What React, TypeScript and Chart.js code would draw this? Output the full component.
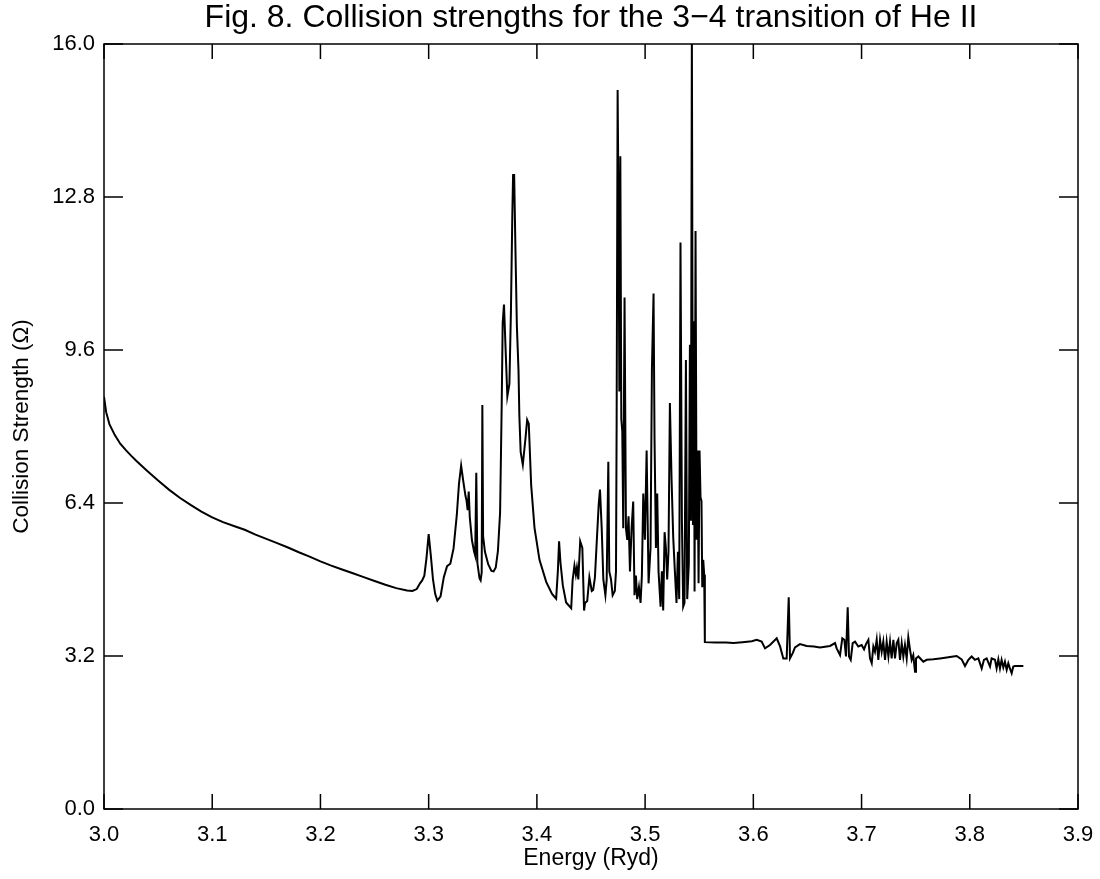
import React, { useEffect, useRef } from "react";
import { Chart, registerables } from "chart.js";

Chart.register(...registerables);

const TITLE = "Fig. 8. Collision strengths for the 3\u22124 transition of He II";
const X_LABEL = "Energy (Ryd)";
const Y_LABEL = "Collision Strength (\u03A9)";

const X_TICKS = [3.0, 3.1, 3.2, 3.3, 3.4, 3.5, 3.6, 3.7, 3.8, 3.9];
const Y_TICKS = [0.0, 3.2, 6.4, 9.6, 12.8, 16.0];

// Energy (Ryd) values
const energySmooth = [
  3.000, 3.002, 3.005, 3.010, 3.015, 3.020, 3.025, 3.030, 3.040, 3.050, 3.060,
  3.070, 3.080, 3.090, 3.100, 3.110, 3.120, 3.130, 3.140, 3.150, 3.160,
  3.170, 3.180, 3.190, 3.200, 3.210, 3.220, 3.230, 3.240, 3.250, 3.260,
  3.270, 3.280, 3.285, 3.289, 3.292, 3.294, 3.296,
];
const omegaSmooth = [
  8.62, 8.30, 8.05, 7.82, 7.64, 7.51, 7.39, 7.28, 7.07, 6.87, 6.68,
  6.51, 6.36, 6.22, 6.10, 6.00, 5.92, 5.84, 5.74, 5.65, 5.56,
  5.47, 5.37, 5.28, 5.18, 5.09, 5.01, 4.93, 4.85, 4.77, 4.69,
  4.62, 4.57, 4.56, 4.60, 4.72, 4.78, 4.88,
];

const energyResonance = [
  3.298, 3.300, 3.302, 3.304, 3.306, 3.308, 3.311, 3.314, 3.317, 3.320,
  3.323, 3.326, 3.328, 3.330, 3.332, 3.334, 3.335, 3.336, 3.337, 3.338,
  3.340, 3.342, 3.343, 3.344, 3.345, 3.347, 3.348, 3.349, 3.3496, 3.3503,
  3.352, 3.355, 3.358, 3.360, 3.362, 3.364, 3.366, 3.3675, 3.3684, 3.3696,
  3.3709, 3.3727, 3.3746, 3.376, 3.3773, 3.378, 3.379, 3.3802, 3.3815, 3.383,
  3.3838, 3.385, 3.387, 3.3895, 3.391, 3.3925, 3.3947, 3.3978, 3.4024, 3.4086,
  3.414, 3.4178, 3.4194, 3.4205, 3.4218, 3.424, 3.427, 3.4317, 3.433, 3.4347,
  3.436, 3.437, 3.4383, 3.440, 3.442, 3.4436, 3.4445, 3.4465, 3.4485, 3.4507,
  3.452, 3.4536, 3.4552, 3.4571, 3.4583, 3.4599, 3.4614, 3.4633, 3.4645, 3.466,
  3.4669, 3.4685, 3.470, 3.472, 3.4731, 3.4737, 3.4746, 3.4755, 3.4762, 3.4771,
  3.478, 3.4789, 3.4798, 3.481, 3.4823, 3.4835, 3.4847, 3.486, 3.4875, 3.489,
  3.4902, 3.4915, 3.4927, 3.4943, 3.4958, 3.497, 3.4983, 3.4998, 3.5014, 3.5032,
  3.505, 3.5063, 3.5078, 3.5087, 3.510, 3.5112, 3.5124, 3.5143, 3.5155, 3.5167,
  3.518, 3.5192, 3.5204, 3.5216, 3.5229, 3.5244, 3.526, 3.5275, 3.529, 3.5303,
  3.5315, 3.5327, 3.534, 3.5352, 3.5364, 3.5377, 3.5389, 3.5404, 3.5414, 3.5423,
  3.5432, 3.5442, 3.5451, 3.5457, 3.5466, 3.5476, 3.5485, 3.5494, 3.5503, 3.5512,
  3.5521, 3.5528, 3.5537, 3.5546,
];
const omegaResonance = [
  5.25, 5.75, 5.30, 4.80, 4.50, 4.36, 4.45, 4.85, 5.08, 5.13,
  5.45, 6.15, 6.80, 7.18, 6.85, 6.55, 6.45, 6.25, 6.64, 6.10,
  5.62, 5.38, 5.30, 7.03, 5.15, 4.82, 4.78, 4.95, 8.45, 5.70,
  5.38, 5.12, 4.98, 4.97, 5.05, 5.40, 6.20, 8.48, 10.17, 10.55,
  9.73, 8.63, 8.89, 10.40, 12.43, 13.26, 13.26, 11.68, 10.10, 9.19,
  8.22, 7.47, 7.20, 7.76, 8.14, 8.06, 6.78, 5.88, 5.21, 4.75,
  4.50, 4.40, 4.98, 5.60, 5.15, 4.67, 4.32, 4.20, 4.78, 5.09,
  4.90, 5.05, 4.80, 5.60, 5.46, 4.15, 4.31, 4.35, 4.85, 4.56,
  4.58, 4.84, 5.54, 6.36, 6.68, 5.87, 4.80, 4.47, 4.80, 7.26,
  4.97, 4.80, 4.47, 4.56, 4.97, 8.16, 15.04, 12.34, 8.73, 13.65,
  8.16, 7.90, 5.87, 10.70, 5.87, 5.63, 6.12, 4.97, 5.87, 6.43,
  4.47, 4.88, 4.39, 4.64, 4.31, 4.88, 6.60, 5.63, 7.50, 4.72,
  5.46, 9.22, 10.78, 7.76, 5.46, 6.60, 4.97, 4.23, 4.97, 4.15,
  5.79, 5.46, 4.80, 5.38, 8.49, 6.93, 5.67, 4.97, 4.31, 5.38,
  4.39, 11.85, 6.03, 4.23, 4.31, 9.39, 4.39, 5.13, 9.71, 6.03,
  16.30, 5.94, 10.20, 4.55, 12.09, 5.63, 7.50, 4.72, 7.50, 6.52,
  6.44, 4.64, 5.21, 4.90,
];

const energyTail = [
  3.5552, 3.565, 3.575, 3.5815, 3.590, 3.5985, 3.6031, 3.6077, 3.6108, 3.6154,
  3.6216, 3.6247, 3.6277, 3.6308, 3.6327, 3.6339, 3.6364, 3.6385, 3.6431, 3.6493,
  3.656, 3.6616, 3.6709, 3.6755, 3.677, 3.6801, 3.6822, 3.6841, 3.6856, 3.6872,
  3.6884, 3.690, 3.6918, 3.694, 3.697, 3.7001, 3.7023, 3.7041, 3.7063, 3.7078,
  3.7094, 3.7109, 3.7124, 3.714, 3.7155, 3.7171, 3.7186, 3.7201, 3.7217, 3.7232,
  3.7248, 3.7263, 3.7278, 3.7294, 3.7309, 3.7325, 3.734, 3.7355, 3.7371, 3.7386,
  3.7401, 3.7417, 3.7432, 3.7448, 3.7463, 3.7478, 3.7494, 3.7503, 3.7525, 3.7571,
  3.7602, 3.7663, 3.7725, 3.7787, 3.7848, 3.7879, 3.7925, 3.7956, 3.7987, 3.8017,
  3.8048, 3.8079, 3.811, 3.8131, 3.8156, 3.8187, 3.8202, 3.8233, 3.8248, 3.8264,
  3.8279, 3.8294, 3.831, 3.8325, 3.8341, 3.8356, 3.8371, 3.8387, 3.8402, 3.8418,
  3.8495,
];
const omegaTail = [
  3.49, 3.48, 3.48, 3.47, 3.49, 3.51, 3.54, 3.50, 3.36, 3.43,
  3.57, 3.40, 3.15, 3.15, 4.43, 3.15, 3.26, 3.38, 3.45, 3.41,
  3.40, 3.38, 3.41, 3.47, 3.36, 3.22, 3.57, 3.54, 3.19, 4.22,
  3.19, 3.12, 3.47, 3.50, 3.40, 3.43, 3.34, 3.45, 3.54, 3.15,
  3.05, 3.40, 3.29, 3.54, 3.12, 3.54, 3.29, 3.50, 3.12, 3.50,
  3.19, 3.50, 3.15, 3.54, 3.15, 3.47, 3.54, 3.12, 3.47, 3.19,
  3.43, 3.15, 3.59, 3.33, 3.12, 3.22, 2.87, 3.15, 3.19, 3.08,
  3.12, 3.13, 3.15, 3.17, 3.19, 3.20, 3.13, 2.99, 3.12, 3.19,
  3.12, 3.15, 2.94, 3.12, 3.15, 2.98, 3.15, 3.12, 2.94, 3.13,
  2.94, 3.12, 2.96, 3.08, 2.91, 3.05, 2.94, 2.84, 2.98, 2.99,
  2.99,
];

const FONT = "'Liberation Sans', Arial, sans-serif";

const framePlugin = {
  id: "idlFrame",
  afterDatasetsDraw(chart: any) {
    const { ctx, chartArea } = chart;
    const xs = chart.scales.x;
    const ys = chart.scales.y;
    const { left, right, top, bottom } = chartArea;
    ctx.save();
    ctx.strokeStyle = "#000";
    ctx.lineWidth = 1.5;
    ctx.strokeRect(left, top, right - left, bottom - top);
    ctx.beginPath();
    const xLen = 15;
    const yLen = 19;
    for (const v of X_TICKS) {
      const px = xs.getPixelForValue(v);
      ctx.moveTo(px, bottom);
      ctx.lineTo(px, bottom - xLen);
      ctx.moveTo(px, top);
      ctx.lineTo(px, top + xLen);
    }
    for (const v of Y_TICKS) {
      const py = ys.getPixelForValue(v);
      ctx.moveTo(left, py);
      ctx.lineTo(left + yLen, py);
      ctx.moveTo(right, py);
      ctx.lineTo(right - yLen, py);
    }
    ctx.stroke();
    ctx.restore();
  },
};

export default function App() {
  const ref = useRef<HTMLCanvasElement | null>(null);

  useEffect(() => {
    if (!ref.current) return;
    const energy = [...energySmooth, ...energyResonance, ...energyTail];
    const omega = [...omegaSmooth, ...omegaResonance, ...omegaTail];
    const points = energy.map((e, i) => ({ x: e, y: omega[i] }));

    const chart = new Chart(ref.current, {
      type: "scatter",
      data: {
        datasets: [
          {
            label: "Omega",
            data: points,
            showLine: true,
            borderColor: "#000",
            borderWidth: 2,
            pointRadius: 0,
            tension: 0,
            clip: 0,
          } as any,
        ],
      },
      plugins: [framePlugin],
      options: {
        animation: false,
        responsive: false,
        devicePixelRatio: 1,
        layout: { padding: { left: 0, right: 22, top: 0, bottom: 0 } },
        plugins: {
          legend: { display: false },
          tooltip: { enabled: false },
          title: {
            display: true,
            fullSize: false,
            text: TITLE,
            color: "#000",
            font: { family: FONT, size: 32, weight: "normal", lineHeight: 1 },
            padding: { top: 2, bottom: 10 },
          },
        },
        scales: {
          x: {
            type: "linear",
            position: "bottom",
            min: 3.0,
            max: 3.9,
            grid: { display: false, drawTicks: false },
            border: { display: false },
            afterBuildTicks: (s: any) => {
              s.ticks = X_TICKS.map((v) => ({ value: v }));
            },
            afterFit: (s: any) => {
              s.height = 70;
              s.paddingLeft = 0;
              s.paddingRight = 0;
            },
            ticks: {
              color: "#000",
              font: { family: FONT, size: 22 },
              padding: 13,
              maxRotation: 0,
              autoSkip: false,
              callback: (v: any) => Number(v).toFixed(1),
            },
            title: {
              display: true,
              text: X_LABEL,
              color: "#000",
              font: { family: FONT, size: 23 },
              padding: { top: 0, bottom: 7 },
            },
          },
          y: {
            type: "linear",
            position: "left",
            min: 0,
            max: 16,
            grid: { display: false, drawTicks: false },
            border: { display: false },
            afterBuildTicks: (s: any) => {
              s.ticks = Y_TICKS.map((v) => ({ value: v }));
            },
            afterFit: (s: any) => {
              s.width = 104;
              s.paddingTop = 0;
              s.paddingBottom = 0;
            },
            ticks: {
              color: "#000",
              font: { family: FONT, size: 22 },
              padding: 9,
              autoSkip: false,
              callback: (v: any) => Number(v).toFixed(1),
            },
            title: {
              display: true,
              text: Y_LABEL,
              color: "#000",
              font: { family: FONT, size: 22.5 },
              padding: { top: 8, bottom: 8 },
            },
          },
        },
      },
    });
    return () => chart.destroy();
  }, []);

  return (
    <div style={{ position: "absolute", left: 0, top: 0, width: 1100, height: 879, background: "#fff" }}>
      <canvas ref={ref} width={1100} height={879} style={{ width: 1100, height: 879, display: "block" }} />
    </div>
  );
}
